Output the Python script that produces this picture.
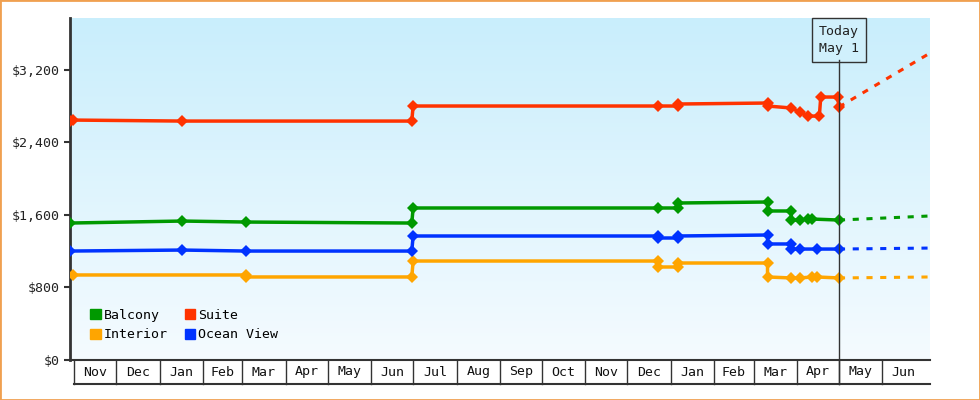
import numpy as np, pandas as pd, seaborn as sns
import matplotlib
matplotlib.use("Agg")
import matplotlib.pyplot as plt
from matplotlib.patches import Patch, Rectangle

# x = days since Nov 1 (first year)
suite_x = [-3, -1, 77, 241, 242, 417, 431, 431, 495, 495, 512, 518, 524, 532, 533, 545, 546]
suite_y = [2640, 2647, 2636, 2636, 2802, 2802, 2802, 2824, 2835, 2802, 2780, 2735, 2691, 2691, 2901, 2901, 2791]
balc_x = [-3, 77, 123, 241, 242, 417, 431, 431, 495, 495, 512, 512, 518, 524, 527, 546]
balc_y = [1511, 1533, 1522, 1511, 1677, 1677, 1677, 1732, 1743, 1644, 1644, 1544, 1544, 1555, 1555, 1544]
ocean_x = [-3, 77, 123, 241, 242, 417, 417, 431, 431, 495, 495, 512, 512, 518, 530, 546]
ocean_y = [1202, 1213, 1202, 1202, 1368, 1368, 1346, 1346, 1368, 1379, 1280, 1280, 1224, 1224, 1224, 1224]
inter_x = [-1, 123, 123, 241, 242, 417, 417, 431, 431, 495, 495, 512, 518, 527, 530, 546]
inter_y = [938, 938, 916, 916, 1092, 1092, 1026, 1026, 1070, 1070, 916, 905, 905, 916, 916, 905]
fc_x = [546, 611]
fc_suite = [2791, 3386]
fc_balc = [1544, 1589]
fc_ocean = [1224, 1235]
fc_inter = [905, 916]

months = ["Nov","Dec","Jan","Feb","Mar","Apr","May","Jun","Jul","Aug","Sep","Oct",
          "Nov","Dec","Jan","Feb","Mar","Apr","May","Jun"]
bounds = [0,30,61,92,120,151,181,212,242,273,304,334,365,395,426,457,485,516,546,577,607]
yticks = [0, 800, 1600, 2400, 3200]

colors = {"Balcony": "#009900", "Suite": "#ff3300", "Interior": "#ffa500", "Ocean View": "#0033ff"}
series = {"Balcony": (balc_x, balc_y), "Suite": (suite_x, suite_y),
          "Interior": (inter_x, inter_y), "Ocean View": (ocean_x, ocean_y)}
fcs = {"Balcony": fc_balc, "Suite": fc_suite, "Interior": fc_inter, "Ocean View": fc_ocean}

plt.rcParams["font.family"] = ["DejaVu Sans Mono"]
fig = plt.figure(figsize=(9.8, 4.0), dpi=100)
fig.patches.append(Rectangle((0, 0), 1, 1, transform=fig.transFigure, fill=False,
                             edgecolor="#f0a050", lw=2))
ax = fig.add_axes([70/980, 40/400, 860/980, 342/400])
xmin, xmax = -3, 611
ymax = 3773
grad = np.linspace(0, 1, 256).reshape(-1, 1)
cmap = matplotlib.colors.LinearSegmentedColormap.from_list("g", ["#c9eefc", "#f5fbff"])
ax.imshow(grad, extent=[xmin, xmax, 0, ymax], aspect="auto", cmap=cmap, zorder=0)

for k, (x, y) in series.items():
    sns.lineplot(x=x, y=y, ax=ax, color=colors[k], lw=2.5, marker="D", markersize=6.5,
                 markeredgewidth=0, sort=False, estimator=None, zorder=3)
    ax.plot(fc_x, fcs[k], color=colors[k], lw=2.2, ls=(0, (2, 2.5)), zorder=3)

ax.set_xlim(xmin, xmax)
ax.set_ylim(0, ymax)
ax.set_xticks([])
ax.set_yticks(yticks)
ax.set_yticklabels([f"${v:,}" for v in yticks], fontsize=9.5, color="#222")
ax.tick_params(axis="y", length=4, width=1.5, color="#333")
for s in ["top", "right"]:
    ax.spines[s].set_visible(False)
ax.spines["left"].set_linewidth(2); ax.spines["left"].set_color("#333")
ax.spines["bottom"].set_linewidth(1.5); ax.spines["bottom"].set_color("#333")

# month boxes
trans = matplotlib.transforms.blended_transform_factory(ax.transData, ax.transAxes)
bh = 24/342
ax.plot([0, xmax], [-bh, -bh], transform=trans, color="#333", lw=1.5, clip_on=False)
for b in bounds[:-1]:
    ax.plot([b, b], [0, -bh], transform=trans, color="#333", lw=1, clip_on=False)
for i, m in enumerate(months):
    ax.text((bounds[i] + bounds[i+1]) / 2, -bh/2, m, transform=trans, ha="center",
            va="center", fontsize=9.5, color="#111")

# today marker
ax.plot([546, 546], [-bh, 1 - 42/342], transform=trans, color="#333", lw=1, clip_on=False, zorder=4)
ax.text(546, 1 - 22/342, "Today\nMay 1", transform=trans, ha="center", va="center",
        fontsize=9.5, color="#222", linespacing=1.4,
        bbox=dict(boxstyle="square,pad=0.5", fc="#d0f0fc", ec="#333", lw=1))

handles = [Patch(color=colors[k], label=k) for k in ["Balcony", "Interior", "Suite", "Ocean View"]]
ax.legend(handles=handles, ncol=2, loc="lower left", bbox_to_anchor=(0.01, 0.02), frameon=False,
          fontsize=9.5, handlelength=0.8, handleheight=0.8, handletextpad=0.2,
          columnspacing=1.3, labelspacing=0.5)
fig.savefig("out.png", dpi=100)
